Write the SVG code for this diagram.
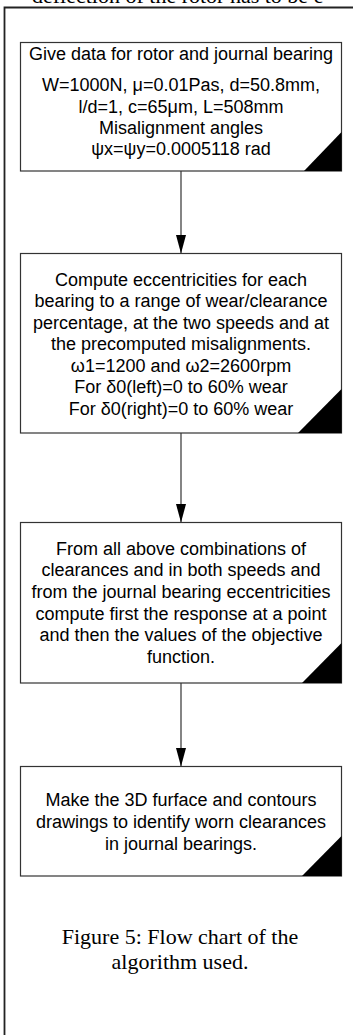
<svg xmlns="http://www.w3.org/2000/svg" width="353" height="1035" viewBox="0 0 353 1035">
<style>
.box{fill:#fff;stroke:#333;stroke-width:1.2}
.tri{fill:#000}
.t{font-family:"Liberation Sans",Arial,sans-serif;font-size:18px;fill:#000;text-anchor:middle}
.cap{font-family:"Liberation Serif","Times New Roman",serif;font-size:22px;fill:#000;text-anchor:middle}
.conn{stroke:#333;stroke-width:1.2;fill:none}
</style>
<defs>
<marker id="ah" markerUnits="userSpaceOnUse" markerWidth="20" markerHeight="12" refX="18.5" refY="5" orient="auto">
<path d="M0,0 L18.5,5 L0,10 Z" fill="#000"/>
</marker>
</defs>
<rect width="353" height="1035" fill="#fff"/>
<text x="32" y="2.5" font-family="'Liberation Serif','Times New Roman',serif" font-size="22" fill="#000">deflection of the rotor has to be e</text>
<path d="M4.5,1035 V7.5 H353" fill="none" stroke="#222" stroke-width="1.8"/>
<g id="connectors">
<line class="conn" x1="181" y1="171" x2="181" y2="253.5" marker-end="url(#ah)"/>
<line class="conn" x1="181" y1="433" x2="181" y2="522.5" marker-end="url(#ah)"/>
<line class="conn" x1="181" y1="683" x2="181" y2="766.5" marker-end="url(#ah)"/>
</g>
<g id="node1">
<rect class="box" x="20.5" y="42.5" width="321" height="128.5"/>
<path class="tri" d="M304,171 L341.5,171 L341.5,132 Z"/>
<text class="t" x="181" y="59.5">Give data for rotor and journal bearing</text>
<text class="t" x="181" y="91.2">W=1000N, μ=0.01Pas, d=50.8mm,</text>
<text class="t" x="181" y="112.6">l/d=1, c=65μm, L=508mm</text>
<text class="t" x="181" y="134">Misalignment angles</text>
<text class="t" x="181" y="155.4">ψx=ψy=0.0005118 rad</text>
</g>
<g id="node2">
<rect class="box" x="20.5" y="253.5" width="321" height="179.5"/>
<path class="tri" d="M298,433 L341.5,433 L341.5,389 Z"/>
<text class="t" x="181" y="285.6">Compute eccentricities for each</text>
<text class="t" x="181" y="307.1">bearing to a range of wear/clearance</text>
<text class="t" x="181" y="328.6">percentage, at the two speeds and at</text>
<text class="t" x="181" y="350.1">the precomputed misalignments.</text>
<text class="t" x="181" y="371.6">ω1=1200 and ω2=2600rpm</text>
<text class="t" x="181" y="393.1">For δ0(left)=0 to 60% wear</text>
<text class="t" x="181" y="414.6">For δ0(right)=0 to 60% wear</text>
</g>
<g id="node3">
<rect class="box" x="20.5" y="522.5" width="321" height="160.5"/>
<path class="tri" d="M302,683 L341.5,683 L341.5,643 Z"/>
<text class="t" x="181" y="554.6">From all above combinations of</text>
<text class="t" x="181" y="576.3">clearances and in both speeds and</text>
<text class="t" x="181" y="598">from the journal bearing eccentricities</text>
<text class="t" x="181" y="619.7">compute first the response at a point</text>
<text class="t" x="181" y="641.4">and then the values of the objective</text>
<text class="t" x="181" y="663.1">function.</text>
</g>
<g id="node4">
<rect class="box" x="20.5" y="766.5" width="321" height="109.5"/>
<path class="tri" d="M302,876 L341.5,876 L341.5,836 Z"/>
<text class="t" x="181" y="806.2">Make the 3D furface and contours</text>
<text class="t" x="181" y="827.9">drawings to identify worn clearances</text>
<text class="t" x="181" y="849.6">in journal bearings.</text>
</g>
<g id="caption">
<text class="cap" x="180" y="944">Figure 5: Flow chart of the</text>
<text class="cap" x="180" y="969.3">algorithm used.</text>
</g>
</svg>
